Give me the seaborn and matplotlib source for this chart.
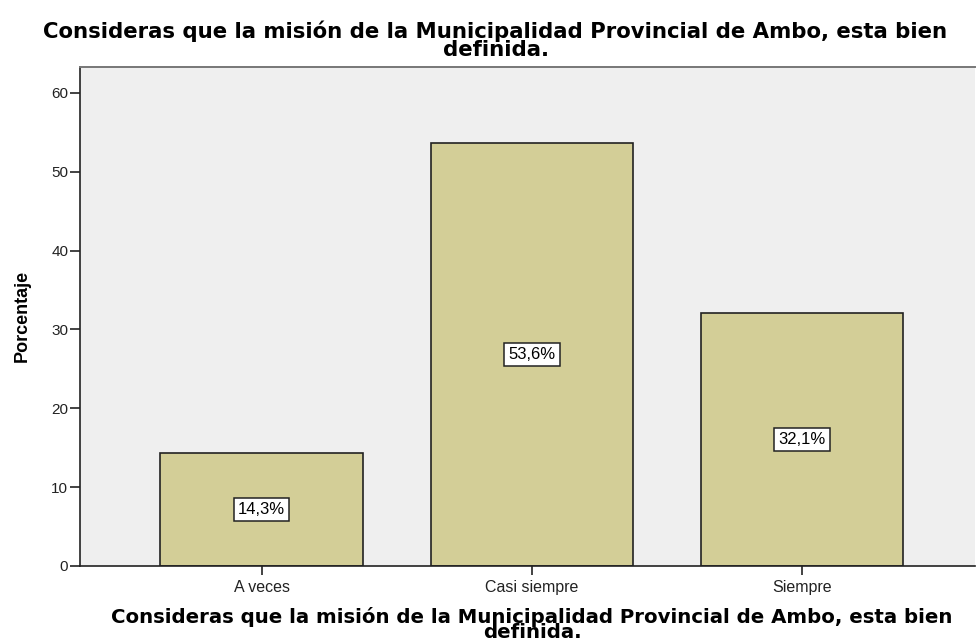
import matplotlib
matplotlib.use("Agg")
import matplotlib.pyplot as plt
import seaborn as sns
import pandas as pd

# =========================================================
# DATA
# =========================================================

categorias = ["A veces", "Casi siempre", "Siempre"]
porcentajes = [14.3, 53.6, 32.1]
etiquetas = ["14,3%", "53,6%", "32,1%"]

titulo = "Consideras que la misión de la Municipalidad Provincial de Ambo, esta bien\ndefinida."

df = pd.DataFrame({"categoria": categorias, "porcentaje": porcentajes})

# =========================================================
# PLOT
# =========================================================

sns.set_style("white")
plt.rcParams["font.family"] = ["DejaVu Sans"]

fig = plt.figure(figsize=(9.76, 6.43), dpi=100)
ax = fig.add_axes([0.082, 0.120, 0.917, 0.776])

sns.barplot(
    data=df,
    x="categoria",
    y="porcentaje",
    color="#D3CE97",
    edgecolor="#222222",
    linewidth=1.2,
    width=0.75,
    saturation=1,
    ax=ax
)

ax.set_facecolor("#EFEFEF")
ax.set_xlim(-0.672, 2.64)
ax.set_ylim(0, 63.3)
ax.set_yticks([0, 10, 20, 30, 40, 50, 60])

for sp in ["left", "bottom"]:
    ax.spines[sp].set_color("#222222")
    ax.spines[sp].set_linewidth(1.2)
ax.spines["top"].set_color("#777777")
ax.spines["top"].set_linewidth(1.4)
ax.spines["right"].set_visible(False)

ax.tick_params(axis="y", direction="out", length=7.5, width=1.2,
               labelsize=11, colors="#222222", pad=1, left=True)
ax.tick_params(axis="x", direction="out", length=6.5, width=1.2,
               labelsize=11.5, colors="#222222", pad=3.5, bottom=True)
for lab in ax.get_xticklabels() + ax.get_yticklabels():
    lab.set_fontfamily("Liberation Sans")

# etiquetas de valor en cajas blancas
for i, (v, t) in enumerate(zip(porcentajes, etiquetas)):
    ax.text(i, v / 2, t, ha="center", va="center", fontsize=12,
            family="Liberation Sans", color="black",
            bbox=dict(boxstyle="square,pad=0.25", fc="white", ec="#222222", lw=1.1))

ax.set_ylabel("Porcentaje", fontsize=13, fontweight="bold",
              family="Liberation Sans", color="black")
ax.yaxis.set_label_coords(-0.055, 0.5)

ax.set_xlabel(titulo, fontsize=14.2, fontweight="bold", linespacing=0.76,
              color="black", va="top")
ax.xaxis.set_label_coords(0.505, -0.082)

fig.text(0.5077, 0.9677, titulo, ha="center", va="top", fontsize=15.3,
         fontweight="bold", linespacing=0.88, color="black")

plt.savefig("out.png", dpi=100)
